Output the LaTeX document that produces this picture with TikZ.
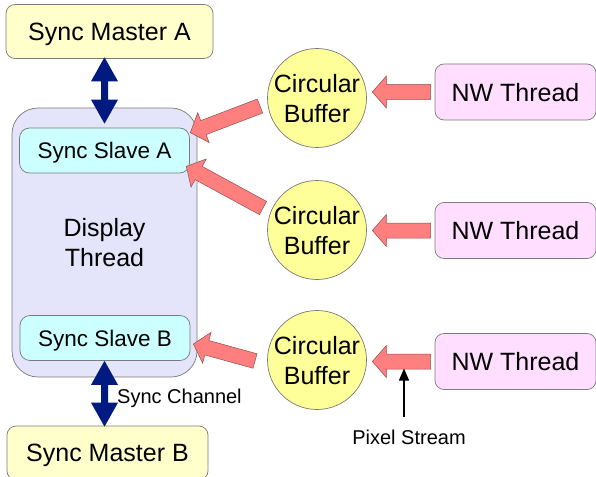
\documentclass[tikz,border=0pt]{standalone}
\usepackage{fontspec}
\setmainfont{Liberation Sans}
\usetikzlibrary{calc,arrows.meta}

\definecolor{masterfill}{HTML}{FFFFCC}
\definecolor{threadfill}{HTML}{E4E4FA}
\definecolor{slavefill}{HTML}{CCFFFF}
\definecolor{bufferfill}{HTML}{FFFF99}
\definecolor{nwfill}{HTML}{FFDEFF}
\definecolor{boxedge}{HTML}{7A7A7A}
\definecolor{pipe}{HTML}{FF7F7F}
\definecolor{pipeedge}{HTML}{8A5050}
\definecolor{link}{HTML}{001A80}

% red block arrow from a tail point to a tip point
\newcommand\flowarrow[2]{%
  \coordinate (fa-h) at ($(#2)!14pt!(#1)$);
  \filldraw[pipe, draw=pipeedge, line width=0.5pt, line join=miter]
    ($(#1)!7.5pt!90:(#2)$) -- ($(fa-h)!7.5pt!90:(#2)$) -- ($(fa-h)!16pt!90:(#2)$)
    -- (#2) -- ($(fa-h)!16pt!-90:(#2)$) -- ($(fa-h)!7.5pt!-90:(#2)$)
    -- ($(#1)!7.5pt!-90:(#2)$) -- cycle;}

% dark blue two-headed block arrow
\newcommand\syncarrow[2]{%
  \coordinate (sa-a) at ($(#1)!24pt!(#2)$);
  \coordinate (sa-b) at ($(#2)!24pt!(#1)$);
  \fill[link] (#1) -- ($(sa-a)!13.5pt!90:(#1)$) -- ($(sa-a)!3.5pt!90:(#1)$)
    -- ($(sa-b)!3.5pt!-90:(#2)$) -- ($(sa-b)!13.5pt!-90:(#2)$) -- (#2)
    -- ($(sa-b)!13.5pt!90:(#2)$) -- ($(sa-b)!3.5pt!90:(#2)$)
    -- ($(sa-a)!3.5pt!-90:(#1)$) -- ($(sa-a)!13.5pt!-90:(#1)$) -- cycle;}

\tikzset{
  big/.style={font=\fontsize{25}{30}\selectfont, text depth=0pt},
  master/.style={big, draw=boxedge, line width=0.7pt, fill=masterfill, rounded corners=9pt,
    minimum width=#1, minimum height=54pt, inner sep=0pt},
  thread/.style={big, draw=boxedge, line width=0.7pt, fill=threadfill, rounded corners=26pt,
    minimum width=185pt, minimum height=269pt, inner sep=0pt, align=center},
  slave/.style={font=\fontsize{22.5}{27}\selectfont, text depth=0pt, draw=boxedge, line width=0.7pt,
    fill=slavefill, rounded corners=10pt, minimum width=170pt, minimum height=45pt, inner sep=0pt},
  buffer/.style={big, circle, draw=boxedge, line width=0.7pt, fill=bufferfill,
    minimum size=99pt, inner sep=0pt, align=center},
  nw/.style={big, draw=boxedge, line width=0.7pt, fill=nwfill, rounded corners=9pt,
    minimum width=161pt, minimum height=56pt, inner sep=0pt},
  note/.style={font=\fontsize{20}{24}\selectfont, inner sep=0pt},
}

\begin{document}
\begin{tikzpicture}[x=1pt, y=-1pt]
\useasboundingbox (0,0) rectangle (596,476);

% left column: masters, display thread and its slaves
\node[master=207pt] (ma) at (109.5,31.5) {Sync Master A};
\node[thread] (disp) at (104.5,242.5) {Display\\Thread};
\node[slave] (sla) at (104.5,150.5) {Sync Slave A};
\node[slave] (slb) at (105,338) {Sync Slave B};
\node[master=201pt] (mb) at (107.5,453) {Sync Master B};

% buffers and network threads
\node[buffer] (cb1) at (317,98) {Circular\\Buffer};
\node[buffer] (cb2) at (317,230) {Circular\\Buffer};
\node[buffer] (cb3) at (317,360) {Circular\\Buffer};
\node[nw] (nw1) at (515.5,92) {NW Thread};
\node[nw] (nw2) at (515.5,230.5) {NW Thread};
\node[nw] (nw3) at (515.5,361.5) {NW Thread};

% sync channels
\syncarrow{[yshift=1.5pt]ma.south -| disp.center}{[yshift=4pt]sla.north -| disp.center}
\syncarrow{slb.south -| disp.center}{[yshift=-1pt]mb.north -| disp.center}
\node[note, anchor=west] (sc) at (117,398) {Sync Channel};

% data flow: network threads into buffers
\flowarrow{[xshift=-4pt]nw1.west}{[xshift=5.5pt]cb1.east |- nw1.west}
\flowarrow{[xshift=-4pt]nw2.west}{[xshift=5.5pt]cb2.east |- nw2.west}
\flowarrow{[xshift=-4pt]nw3.west}{[xshift=5.5pt]cb3.east |- nw3.west}

% data flow: buffers into the display thread slaves
\coordinate (t1) at (260,106);
\coordinate (t2) at (263,208);
\coordinate (t3) at (255,361);
\flowarrow{t1}{[shift={(0.5pt,-5pt)}]sla.north east}
\flowarrow{t2}{[shift={(-3.5pt,7pt)}]sla.south east}
\flowarrow{t3}{[shift={(3pt,-6pt)}]slb.east}

% pixel stream pointer
\node[note] (ps) at (409,437) {Pixel Stream};
\coordinate (psfoot) at (404,417);
\coordinate (pstip) at (404,368.5);
\draw[line width=1.4pt, -{Triangle[length=12pt,width=10pt]}] (psfoot) -- (pstip);
\end{tikzpicture}
\end{document}
